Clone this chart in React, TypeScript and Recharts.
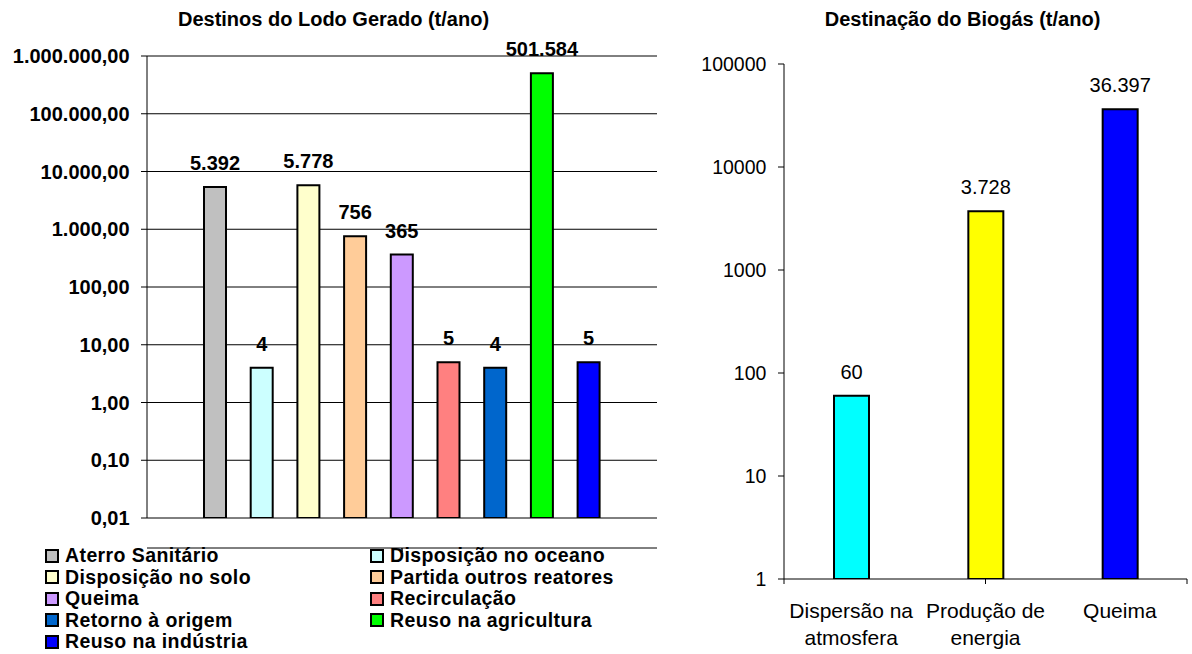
import React from "react";
import { BarChart, Bar, XAxis, YAxis, CartesianGrid, LabelList, Legend, Cell } from "recharts";

const FONT = '"Liberation Sans", Arial, sans-serif';

// ---- Left chart: Destinos do Lodo Gerado ----
const lodoTitle = "Destinos do Lodo Gerado (t/ano)";
const lodoSeries = [
  "Aterro Sanitário",
  "Disposição no oceano",
  "Disposição no solo",
  "Partida outros reatores",
  "Queima",
  "Recirculação",
  "Retorno à origem",
  "Reuso na agricultura",
  "Reuso na indústria",
];
const lodoValues = [5392, 4, 5778, 756, 365, 5, 4, 501584, 5];
const lodoColors = ["#C0C0C0", "#CCFFFF", "#FFFFCC", "#FFCC99", "#CC99FF", "#FF8080", "#0066CC", "#00FF00", "#0000FF"];
const lodoYTicks = [0.01, 0.1, 1, 10, 100, 1000, 10000, 100000, 1000000];
const lodoYTickLabels = ["0,01", "0,10", "1,00", "10,00", "100,00", "1.000,00", "10.000,00", "100.000,00", "1.000.000,00"];

// ---- Right chart: Destinação do Biogás ----
const biogasTitle = "Destinação do Biogás (t/ano)";
const biogasCategories = ["Dispersão na atmosfera", "Produção de energia", "Queima"];
const biogasTickLines = [["Dispersão na", "atmosfera"], ["Produção de", "energia"], ["Queima"]];
const biogasValues = [60, 3728, 36397];
const biogasColors = ["#00FFFF", "#FFFF00", "#0000FF"];
const biogasYTicks = [1, 10, 100, 1000, 10000, 100000];
const biogasYTickLabels = ["1", "10", "100", "1000", "10000", "100000"];

const fmtBR = (v: any) => String(v).replace(/\B(?=(\d{3})+(?!\d))/g, ".");

const lodoData = [
  lodoSeries.reduce((acc: any, _s, i) => {
    acc[`s${i}`] = lodoValues[i];
    return acc;
  }, { name: "Lodo" }),
];

const biogasData = biogasCategories.map((c, i) => ({ name: c, value: biogasValues[i] }));

const LodoLegend = (props: any) => {
  const payload = [...(props.payload || [])].sort(
    (a: any, b: any) => lodoSeries.indexOf(a.value) - lodoSeries.indexOf(b.value)
  );
  return (
    <div
      style={{
        display: "grid",
        gridTemplateColumns: "325px 315px",
        fontFamily: FONT,
        fontWeight: "bold",
        fontSize: 19.5,
        letterSpacing: 0.4,
        color: "#000",
      }}
    >
      {payload.map((e: any) => {
        const idx = lodoSeries.indexOf(e.value);
        return (
          <div key={e.value} style={{ display: "flex", alignItems: "center", height: 21.5, lineHeight: "21.5px", whiteSpace: "nowrap" }}>
            <span
              style={{
                width: 14,
                height: 14,
                boxSizing: "border-box",
                border: "2px solid #000",
                background: lodoColors[idx],
                marginRight: 6,
                flex: "none",
              }}
            />
            <span>{e.value}</span>
          </div>
        );
      })}
    </div>
  );
};

const BiogasTick = (props: any) => {
  const { x, y, payload } = props;
  const idx = biogasCategories.indexOf(payload.value);
  const lines = biogasTickLines[idx] || [payload.value];
  return (
    <text x={x} y={y} textAnchor="middle" fontSize={21} fontFamily={FONT} fill="#000">
      {lines.map((l, i) => (
        <tspan key={i} x={x} dy={i === 0 ? 38 : 26.5}>
          {l}
        </tspan>
      ))}
    </text>
  );
};

const titleStyle: React.CSSProperties = {
  position: "absolute",
  top: 9,
  fontFamily: FONT,
  fontWeight: "bold",
  fontSize: 20,
  lineHeight: "20px",
  textAlign: "center",
  color: "#000",
  whiteSpace: "nowrap",
};

export default function App() {
  return (
    <div style={{ position: "absolute", left: 0, top: 0, width: 1192, height: 654, background: "#fff", overflow: "hidden" }}>
      <div style={{ ...titleStyle, left: 0, width: 667 }}>{lodoTitle}</div>
      <div style={{ ...titleStyle, left: 762.5, width: 400 }}>{biogasTitle}</div>

      <div style={{ position: "absolute", left: 0, top: 0 }}>
        <BarChart
          width={680}
          height={654}
          data={lodoData}
          margin={{ top: 56, right: 23, left: 0, bottom: 135 }}
          barGap={24.7}
          barSize={22}
        >
          <CartesianGrid vertical={false} stroke="#000" strokeWidth={1} />
          <XAxis dataKey="name" hide />
          <XAxis
            xAxisId="edge"
            type="number"
            domain={[0, 1]}
            ticks={[0, 1]}
            tickFormatter={() => ""}
            tickSize={4}
            height={1}
            axisLine={{ stroke: "#000" }}
            tickLine={{ stroke: "#000" }}
          />
          <YAxis
            scale="log"
            type="number"
            domain={[0.01, 1000000]}
            ticks={lodoYTicks}
            interval={0}
            allowDataOverflow
            width={147}
            tickSize={6}
            tickMargin={11.4}
            axisLine={{ stroke: "#000" }}
            tickLine={{ stroke: "#000" }}
            tick={{ fill: "#000", fontSize: 20, fontWeight: "bold", fontFamily: FONT }}
            tickFormatter={(v: number) => lodoYTickLabels[lodoYTicks.indexOf(v)] ?? ""}
          />
          <Legend
            layout="horizontal"
            verticalAlign="middle"
            align="center"
            content={<LodoLegend />}
            wrapperStyle={{ left: 45, top: 545, width: 640, height: 110 }}
          />
          {lodoSeries.map((s, i) => (
            <Bar
              key={s}
              dataKey={`s${i}`}
              name={s}
              fill={lodoColors[i]}
              stroke="#000"
              strokeWidth={2}
              isAnimationActive={false}
            >
              <LabelList
                dataKey={`s${i}`}
                position="top"
                offset={17}
                formatter={fmtBR}
                style={{ fill: "#000", fontSize: 20, fontWeight: "bold", fontFamily: FONT }}
              />
            </Bar>
          ))}
        </BarChart>
      </div>

      <div style={{ position: "absolute", left: 680, top: 0 }}>
        <BarChart
          width={512}
          height={654}
          data={biogasData}
          margin={{ top: 64, right: 5, left: 0, bottom: 0 }}
          barSize={35}
        >
          <XAxis
            xAxisId="a"
            type="number"
            domain={[0, 3]}
            ticks={[0, 1, 2, 3]}
            tickFormatter={() => ""}
            tickSize={5}
            height={1}
            axisLine={{ stroke: "#000" }}
            tickLine={{ stroke: "#000" }}
          />
          <XAxis
            xAxisId="b"
            dataKey="name"
            height={74}
            interval={0}
            axisLine={false}
            tickLine={false}
            tickSize={0}
            tickMargin={0}
            tick={<BiogasTick />}
          />
          <YAxis
            scale="log"
            type="number"
            domain={[1, 100000]}
            ticks={biogasYTicks}
            interval={0}
            allowDataOverflow
            width={104}
            tickSize={6}
            tickMargin={11.6}
            axisLine={{ stroke: "#000" }}
            tickLine={{ stroke: "#000" }}
            tick={{ fill: "#000", fontSize: 19.5, fontFamily: FONT }}
            tickFormatter={(v: number) => biogasYTickLabels[biogasYTicks.indexOf(v)] ?? ""}
          />
          <Bar xAxisId="b" dataKey="value" stroke="#000" strokeWidth={2} isAnimationActive={false}>
            {biogasData.map((d, i) => (
              <Cell key={d.name} fill={biogasColors[i]} />
            ))}
            <LabelList
              dataKey="value"
              position="top"
              offset={17}
              formatter={fmtBR}
              style={{ fill: "#000", fontSize: 20, fontFamily: FONT }}
            />
          </Bar>
        </BarChart>
      </div>
    </div>
  );
}
